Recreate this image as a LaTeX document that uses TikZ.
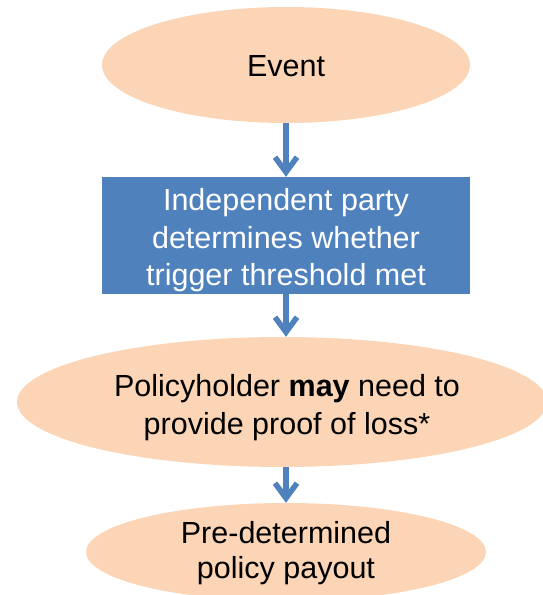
\documentclass[tikz,border=0pt]{standalone}
\usepackage{fontspec}
\setmainfont{Liberation Sans}
\usetikzlibrary{shapes.geometric,arrows.meta}
\definecolor{peach}{HTML}{FBD5B5}
\definecolor{steel}{HTML}{4F81BD}
\tikzset{
  oval/.style={ellipse, fill=peach, inner sep=0pt},
  bluebox/.style={rectangle, fill=steel, inner sep=0pt},
  darktext/.style={align=center, text=black, inner sep=0pt},
  lighttext/.style={align=center, text=white, inner sep=0pt},
  flow/.style={draw=steel, line width=5.5pt,
    -{Straight Barb[length=15pt,width=22pt]}}
}
\begin{document}
\begin{tikzpicture}[x=1pt,y=1pt]
\clip (0,0) rectangle (543,595);
\node[oval, minimum width=368pt, minimum height=116pt] (event) at (286,530) {};
\node[bluebox, minimum width=368pt, minimum height=117pt] (party) at (286,359.5) {};
\node[oval, minimum width=530pt, minimum height=130pt] (proof) at (282,193) {};
\node[oval, minimum width=400pt, minimum height=98pt] (payout) at (286,43) {};
\node[darktext, font=\fontsize{30.5}{38}\selectfont] (eventtext) at ([yshift=-1pt]event.center) {Event};
\node[lighttext, font=\fontsize{30.5}{37.5}\selectfont] (partytext) at ([yshift=-5pt]party.center)
  {Independent party\\determines whether\\trigger threshold met};
\node[darktext, font=\fontsize{30.5}{38}\selectfont] (prooftext) at (287,187)
  {Policyholder \textbf{may} need to\\provide proof of loss*};
\node[darktext, font=\fontsize{30.5}{35}\selectfont] (payouttext) at (286,42)
  {Pre-determined\\policy payout};
\draw[flow] (event.south) -- (party.north);
\draw[flow] (party.south) -- (party.south |- proof.north);
\draw[flow] (payout.north |- proof.south) -- (payout.north);
\end{tikzpicture}
\end{document}
